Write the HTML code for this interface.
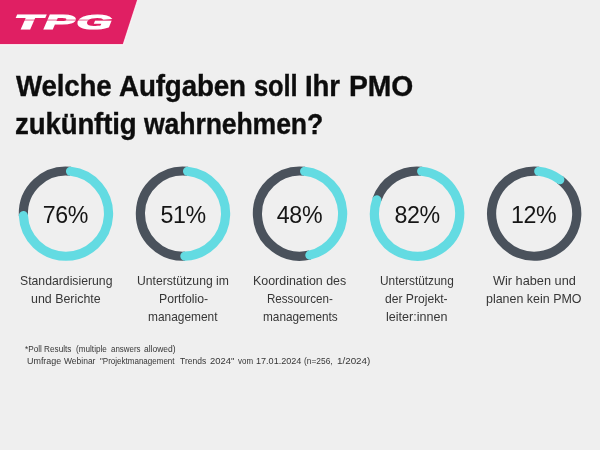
<!DOCTYPE html>
<html lang="de"><head><meta charset="utf-8"><title>TPG PMO Umfrage</title>
<style>
html,body{margin:0;padding:0;}
body{width:600px;height:450px;background:#efefef;position:relative;overflow:hidden;font-family:"Liberation Sans",sans-serif;color:#111;}
.banner{position:absolute;left:0;top:0;}
h1{position:absolute;left:0;top:66px;width:600px;height:80px;margin:0;font-size:29px;line-height:39.3px;font-weight:bold;color:#0d0d0d;white-space:nowrap;letter-spacing:-0.15px;-webkit-text-stroke:0.35px #0d0d0d;}
h1 span,.lab span,.foot span{position:absolute;display:block;transform-origin:0 0;white-space:pre;}
.donuts{position:absolute;left:0;top:0;}
.pct{position:absolute;top:201.9px;width:100px;text-align:center;font-size:23.2px;line-height:26px;color:#151515;letter-spacing:-0.35px;}
.lab{position:absolute;left:0;top:0;font-size:13.5px;line-height:18px;color:#363636;}
.foot{position:absolute;left:0;top:0;font-size:8.6px;line-height:12px;color:#363636;}
</style></head><body>
<svg class="banner" width="150" height="50" viewBox="0 0 150 50">
<polygon points="-2,-2 138.3,-2 123.2,44.6 -2,44.6" fill="#e01f63" stroke="#fff" stroke-opacity=".75" stroke-width="1.2"/>
<text transform="translate(14.3 29.2) scale(2.34 1)" font-family="Liberation Sans, sans-serif" font-weight="bold" font-style="italic" font-size="19.3" fill="#fff" stroke="#fff" stroke-width="2.2" stroke-linejoin="miter" vector-effect="non-scaling-stroke" letter-spacing="1">TPG</text>
<rect x="14" y="19.6" width="100" height="0.9" fill="#e01f63" fill-opacity=".8"/>
</svg>
<h1><span style="left:15.8px;top:0.6px;transform:scaleX(0.955)">Welche</span> <span style="left:118.7px;top:0.6px;transform:scaleX(0.958)">Aufgaben</span> <span style="left:253.6px;top:0.6px;transform:scaleX(0.879)">soll</span> <span style="left:305.1px;top:0.6px;transform:scaleX(0.951)">Ihr</span> <span style="left:349.3px;top:0.6px;transform:scaleX(0.976)">PMO</span> <span style="left:15.2px;top:38.7px;transform:scaleX(0.953)">zukünftig</span> <span style="left:143.7px;top:38.7px;transform:scaleX(0.919)">wahrnehmen?</span></h1>
<svg class="donuts" width="600" height="450" viewBox="0 0 600 450" fill="none" stroke-width="9.2">
<g stroke="#4a525c"><path d="M23.39 215.57A42.6 42.6 0 0 1 70.54 171.30"/><path d="M184.92 256.21A42.6 42.6 0 1 1 187.59 171.30"/><path d="M309.91 255.09A42.6 42.6 0 1 1 304.64 171.30"/><path d="M376.82 199.77A42.6 42.6 0 0 1 421.69 171.30"/><path d="M559.80 179.63A42.6 42.6 0 1 1 538.74 171.30"/></g>
<g stroke="#63dbe2" stroke-linecap="round"><path d="M70.54 171.30A42.6 42.6 0 1 1 23.39 215.57"/><path d="M187.59 171.30A42.6 42.6 0 0 1 184.92 256.21"/><path d="M304.64 171.30A42.6 42.6 0 0 1 309.91 255.09"/><path d="M421.69 171.30A42.6 42.6 0 1 1 376.82 199.77"/><path d="M538.74 171.30A42.6 42.6 0 0 1 559.80 179.63"/></g>
</svg>
<div class="pct" style="left:15.4px">76%</div>
<div class="pct" style="left:133.1px">51%</div>
<div class="pct" style="left:249.5px">48%</div>
<div class="pct" style="left:367.2px">82%</div>
<div class="pct" style="left:483.6px">12%</div>
<div class="lab"><span style="left:19.5px;top:271.6px;transform:scaleX(0.906)">Standardisierung</span> <span style="left:31.1px;top:289.6px;transform:scaleX(0.919)">und Berichte</span></div>
<div class="lab"><span style="left:137.1px;top:271.6px;transform:scaleX(0.900)">Unterstützung im</span> <span style="left:158.5px;top:289.6px;transform:scaleX(0.908)">Portfolio-</span> <span style="left:147.7px;top:307.6px;transform:scaleX(0.882)">management</span></div>
<div class="lab"><span style="left:253.1px;top:271.6px;transform:scaleX(0.920)">Koordination des</span> <span style="left:267.1px;top:289.6px;transform:scaleX(0.859)">Ressourcen-</span> <span style="left:262.7px;top:307.6px;transform:scaleX(0.874)">managements</span></div>
<div class="lab"><span style="left:380.1px;top:271.6px;transform:scaleX(0.878)">Unterstützung</span> <span style="left:385.1px;top:289.6px;transform:scaleX(0.897)">der Projekt-</span> <span style="left:386.1px;top:307.6px;transform:scaleX(0.931)">leiter:innen</span></div>
<div class="lab"><span style="left:493.0px;top:271.6px;transform:scaleX(0.943)">Wir haben und</span> <span style="left:486.1px;top:289.6px;transform:scaleX(0.922)">planen kein PMO</span></div>
<div class="foot"><span style="left:25.3px;top:343.0px;transform:scaleX(0.953)">*Poll Results</span> <span style="left:75.8px;top:343.0px;transform:scaleX(0.950)">(multiple</span> <span style="left:111.3px;top:343.0px;transform:scaleX(0.922)">answers</span> <span style="left:144.2px;top:343.0px;transform:scaleX(0.988)">allowed)</span> <span style="left:26.5px;top:355.4px;transform:scaleX(1.039)">Umfrage</span> <span style="left:63.7px;top:355.4px;transform:scaleX(0.987)">Webinar</span> <span style="left:100.4px;top:355.4px;transform:scaleX(0.932)">&quot;Projektmanagement</span> <span style="left:179.5px;top:355.4px;transform:scaleX(0.992)">Trends</span> <span style="left:210.0px;top:355.4px;transform:scaleX(1.100)">2024&quot;</span> <span style="left:237.5px;top:355.4px;transform:scaleX(0.925)">vom</span> <span style="left:255.6px;top:355.4px;transform:scaleX(1.056)">17.01.2024</span> <span style="left:304.2px;top:355.4px;transform:scaleX(0.976)">(n=256,</span> <span style="left:337.2px;top:355.4px;transform:scaleX(1.143)">1/2024)</span></div>
</body></html>
